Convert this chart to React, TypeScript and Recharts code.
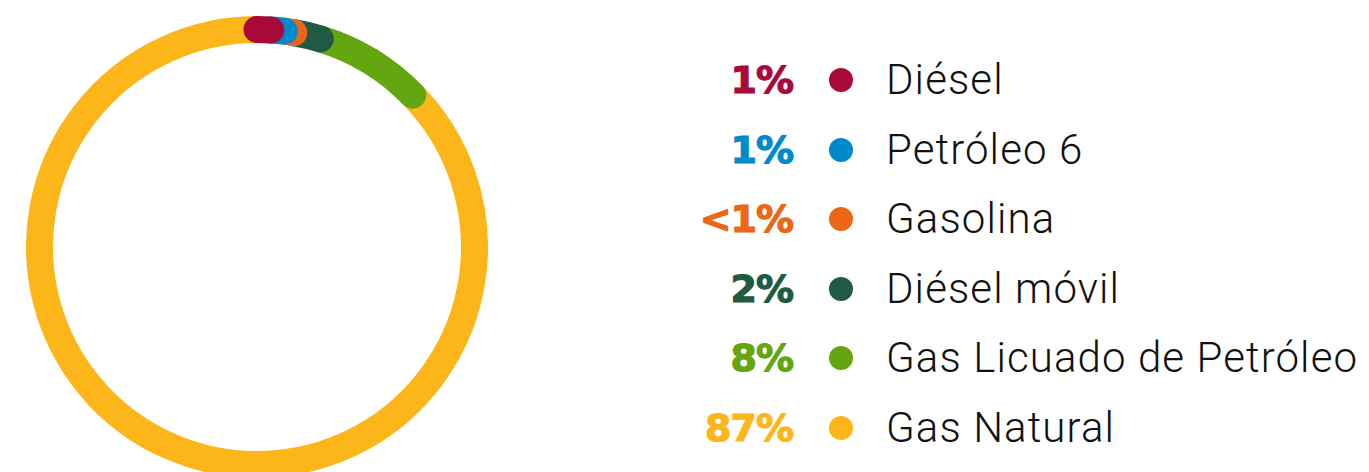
import React from 'react';
import { PieChart, Pie, Cell } from 'recharts';

// fuel mix, clockwise from 12 o'clock
const fuels = ['Diésel', 'Petróleo 6', 'Gasolina', 'Diésel móvil', 'Gas Licuado de Petróleo', 'Gas Natural'];
const shares = [1, 1, 0.7, 2, 8, 87.3];
const shareLabels = ['1%', '1%', '<1%', '2%', '8%', '87%'];
const colors = ['#A8093A', '#0089CB', '#EB6615', '#1F5B44', '#64A610', '#FDB61A'];

const RAD = Math.PI / 180;
const ROW_TOP = 80;
const ROW_STEP = 69.6;

// reversed so the first fuel is painted last (its rounded cap sits on top)
const ringData = fuels
  .map((name, i) => ({ name, value: shares[i], color: colors[i] }))
  .reverse();

const point = (cx: number, cy: number, r: number, angle: number) => ({
  x: cx + r * Math.cos(-angle * RAD),
  y: cy + r * Math.sin(-angle * RAD),
});

const renderArc = (props: any) => {
  const { cx, cy, innerRadius, outerRadius, startAngle, endAngle, index } = props;
  const r = (innerRadius + outerRadius) / 2;
  const a = point(cx, cy, r, startAngle);
  const b = point(cx, cy, r, endAngle);
  const large = Math.abs(endAngle - startAngle) > 180 ? 1 : 0;
  const sweep = endAngle > startAngle ? 0 : 1;
  return (
    <path
      key={`arc-${index}`}
      d={`M ${a.x} ${a.y} A ${r} ${r} 0 ${large} ${sweep} ${b.x} ${b.y}`}
      fill="none"
      stroke={ringData[index].color}
      strokeWidth={outerRadius - innerRadius}
      strokeLinecap="round"
    />
  );
};

export default function App() {
  return (
    <div
      style={{
        position: 'absolute',
        left: 0,
        top: 0,
        width: 1369,
        height: 472,
        overflow: 'hidden',
        background: '#fff',
      }}
    >
      <div style={{ position: 'absolute', left: 0, top: 0 }}>
        <PieChart width={520} height={500} margin={{ top: 0, right: 0, bottom: 0, left: 0 }}>
          <Pie
            data={ringData}
            dataKey="value"
            nameKey="name"
            cx={257}
            cy={247}
            innerRadius={204}
            outerRadius={231}
            startAngle={90}
            endAngle={450}
            paddingAngle={0}
            stroke="none"
            label={renderArc}
            labelLine={false}
            isAnimationActive={false}
          >
            {ringData.map((d) => (
              <Cell key={d.name} fill="transparent" />
            ))}
          </Pie>
        </PieChart>
      </div>

      {fuels.map((name, i) => (
        <div
          key={name}
          style={{
            position: 'absolute',
            left: 0,
            top: ROW_TOP + i * ROW_STEP - 30,
            width: 1369,
            height: 60,
          }}
        >
          <span
            style={{
              position: 'absolute',
              right: 1369 - 793,
              top: 0,
              lineHeight: '60px',
              fontFamily: '"DejaVu Sans", sans-serif',
              fontWeight: 700,
              fontSize: 38,
              letterSpacing: -1,
              color: colors[i],
              WebkitTextStroke: `1.2px ${colors[i]}`,
              whiteSpace: 'nowrap',
            }}
          >
            {shareLabels[i]}
          </span>
          <span
            style={{
              position: 'absolute',
              left: 829,
              top: 18,
              width: 24,
              height: 24,
              borderRadius: '50%',
              background: colors[i],
            }}
          />
          <span
            style={{
              position: 'absolute',
              left: 886,
              top: 0,
              lineHeight: '60px',
              fontFamily: 'Roboto, sans-serif',
              fontWeight: 300,
              fontSize: 42,
              letterSpacing: 1.1,
              color: '#111',
              whiteSpace: 'nowrap',
            }}
          >
            {name}
          </span>
        </div>
      ))}
    </div>
  );
}
